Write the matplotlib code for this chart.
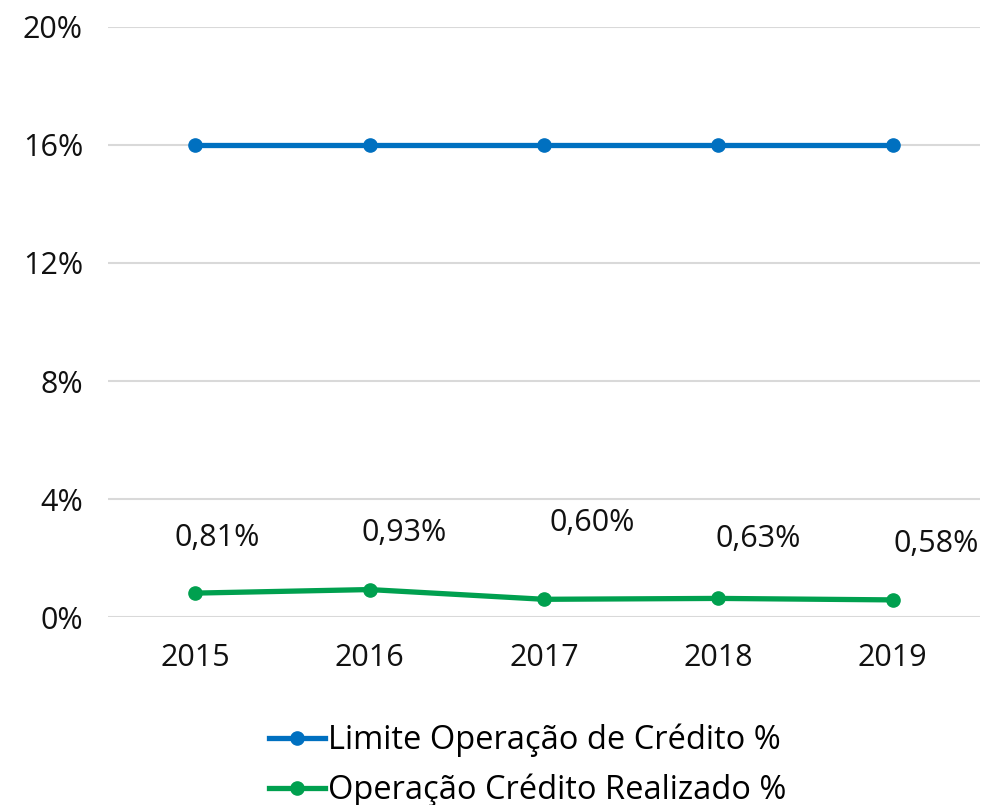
import matplotlib.pyplot as plt
from matplotlib.ticker import FuncFormatter

plt.rcParams['font.family'] = ['Open Sans', 'DejaVu Sans']

# dados
anos = ['2015', '2016', '2017', '2018', '2019']
limite = [16.0, 16.0, 16.0, 16.0, 16.0]
realizado = [0.81, 0.93, 0.60, 0.63, 0.58]
rotulos = ['0,81%', '0,93%', '0,60%', '0,63%', '0,58%']

# deslocamento dos rótulos (pontos)
offsets = [(16, 40), (25, 41), (35, 55), (29, 43), (31, 40)]

azul = '#0070C0'
verde = '#00A04F'

fig = plt.figure(figsize=(9.87, 8.05), dpi=100)
ax = fig.add_axes([108 / 987, 1 - 617 / 805, 872 / 987, 590 / 805])

x = range(len(anos))
ax.plot(x, limite, color=azul, lw=3.8, marker='o', ms=9.5,
        label='Limite Operação de Crédito %')
ax.plot(x, realizado, color=verde, lw=3.8, marker='o', ms=9.5,
        label='Operação Crédito Realizado %')

for i, (v, t) in enumerate(zip(realizado, rotulos)):
    ax.annotate(t, (i, v), xytext=offsets[i], textcoords='offset points',
                ha='center', va='center', fontsize=22, color='#111111')

ax.set_xlim(-0.5, 4.5)
ax.set_ylim(0, 20)
ax.set_yticks([0, 4, 8, 12, 16, 20])
ax.yaxis.set_major_formatter(FuncFormatter(lambda v, p: f'{v:.0f}%'))
ax.set_xticks(list(x))
ax.set_xticklabels(anos)
ax.tick_params(axis='both', length=0, labelsize=22, colors='#111111')
ax.tick_params(axis='x', pad=19)
ax.tick_params(axis='y', pad=18)
ax.grid(axis='y', color='#D9D9D9', lw=1.5)
ax.set_axisbelow(True)
for s in ax.spines.values():
    s.set_visible(False)

fig.legend(loc='center', bbox_to_anchor=(0.535, 0.049), ncol=1, frameon=False,
           fontsize=23.5, handlelength=1.7, handletextpad=0.1, labelspacing=0.5)

fig.savefig('out.png', dpi=100)
